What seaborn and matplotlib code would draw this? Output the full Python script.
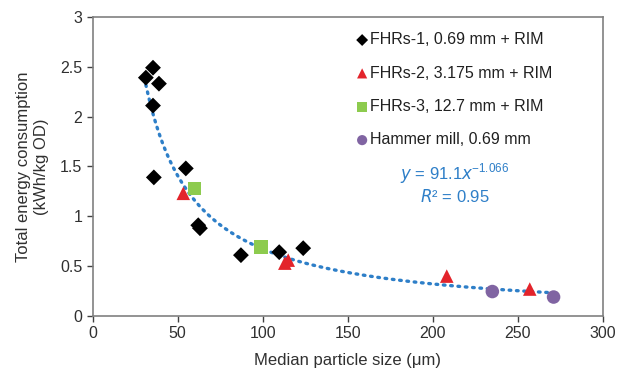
import numpy as np
import pandas as pd
import matplotlib
matplotlib.use("Agg")
import matplotlib.pyplot as plt
import seaborn as sns

sns.set_theme(style="white")
plt.rcParams['font.family'] = ['Liberation Sans', 'DejaVu Sans']

fhrs1_x = [31.3, 35.5, 39.0, 35.5, 36.0, 54.8, 62.1, 63.1, 87.2, 109.7, 123.8]
fhrs1_y = [2.39, 2.49, 2.33, 2.11, 1.39, 1.48, 0.91, 0.88, 0.61, 0.64, 0.68]
fhrs2_x = [53.3, 113.0, 115.0, 208.2, 257.0]
fhrs2_y = [1.23, 0.53, 0.56, 0.40, 0.27]
fhrs3_x = [59.8, 99.1]
fhrs3_y = [1.28, 0.69]
hammer_x = [235.0, 271.0]
hammer_y = [0.245, 0.19]

labels = ["FHRs-1, 0.69 mm + RIM", "FHRs-2, 3.175 mm + RIM",
          "FHRs-3, 12.7 mm + RIM", "Hammer mill, 0.69 mm"]
fit_a, fit_b = 91.1, -1.066
fit_xmin, fit_xmax = 31.3, 271.0

rows = []
for lab, xs, ys in zip(labels, [fhrs1_x, fhrs2_x, fhrs3_x, hammer_x],
                       [fhrs1_y, fhrs2_y, fhrs3_y, hammer_y]):
    for x, y in zip(xs, ys):
        rows.append({"x": x, "y": y, "g": lab})
df = pd.DataFrame(rows)

fig = plt.figure(figsize=(6.3, 3.83), dpi=100)
ax = fig.add_axes([0.147, 0.175, 0.81, 0.781])

xf = np.linspace(fit_xmin, fit_xmax, 300)
fit_df = pd.DataFrame({"x": xf, "y": fit_a * xf ** fit_b})
sns.lineplot(data=fit_df, x="x", y="y", ax=ax, color="#2E7FC8", lw=2.4,
             linestyle=(0, (0.5, 1.7)), dash_capstyle="round", legend=False, zorder=1)

palette = dict(zip(labels, ["black", "#E3242B", "#8DCB4E", "#8064A2"]))
markers = dict(zip(labels, ["D", "^", "s", "o"]))
sizes = {labels[0]: 65, labels[1]: 95, labels[2]: 95, labels[3]: 95}
for lab in labels:
    sub = df[df.g == lab]
    sns.scatterplot(data=sub, x="x", y="y", ax=ax, color=palette[lab],
                    marker=markers[lab], s=sizes[lab], edgecolor="none",
                    label=lab, zorder=3)

ax.set_xlim(0, 300)
ax.set_ylim(0, 3)
ax.set_xticks(range(0, 301, 50))
ax.set_yticks([0, 0.5, 1, 1.5, 2, 2.5, 3])
ax.set_yticklabels(["0", "0.5", "1", "1.5", "2", "2.5", "3"])
ax.tick_params(axis="both", labelsize=11.5, colors="#404040", length=4,
               width=1, direction="out", bottom=True, left=True)
for t in ax.get_xticklabels() + ax.get_yticklabels():
    t.set_color("#303030")
for s in ax.spines.values():
    s.set_color("#808080")
    s.set_linewidth(1.2)

ax.set_xlabel("Median particle size (μm)", fontsize=12, color="#303030", labelpad=8)
ax.set_ylabel("Total energy consumption\n(kWh/kg OD)", fontsize=12, color="#303030", labelpad=8)

ax.text(0.71, 0.475, r"$y$ = 91.1$x$$^{\mathregular{-1.066}}$", transform=ax.transAxes,
        ha="center", va="center", fontsize=12, color="#2E7FC8")
ax.text(0.71, 0.40, r"$R$² = 0.95", transform=ax.transAxes,
        ha="center", va="center", fontsize=12, color="#2E7FC8")

handles, labs = ax.get_legend_handles_labels()
leg = ax.legend(handles, labs, loc="upper left", bbox_to_anchor=(0.5, 0.97),
                frameon=False, fontsize=11.5, handletextpad=0.0, labelspacing=1.15,
                markerscale=0.75, handlelength=1.0, borderaxespad=0)
for txt in leg.get_texts():
    txt.set_color("#202020")

fig.savefig("out.png", dpi=100)
